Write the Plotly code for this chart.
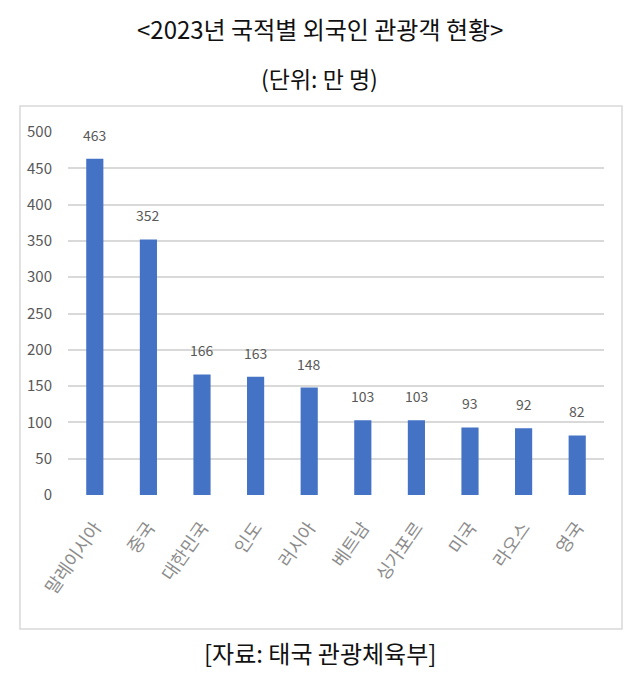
import plotly.graph_objects as go

countries = ["말레이시아", "중국", "대한민국", "인도", "러시아", "베트남", "싱가포르", "미국", "라오스", "영국"]
visitors = [463, 352, 166, 163, 148, 103, 103, 93, 92, 82]
y_ticks = [0, 50, 100, 150, 200, 250, 300, 350, 400, 450, 500]

title_text = "&lt;2023년 국적별 외국인 관광객 현황&gt;"
unit_text = "(단위: 만 명)"
source_text = "[자료: 태국 관광체육부]"

FONT = "Noto Sans CJK KR"
GRAY = "#595959"

fig = go.Figure()
fig.add_trace(go.Bar(
    x=countries, y=visitors,
    marker=dict(color="#4472C4", line=dict(width=0)),
    hoverinfo="x+y",
))

for c, v in zip(countries, visitors):
    fig.add_annotation(x=c, y=v, text=str(v), showarrow=False,
                       yanchor="bottom", yshift=12,
                       font=dict(family=FONT, size=14, color=GRAY))

# chart frame
fig.add_shape(type="rect", xref="paper", yref="paper",
              x0=-0.0896, x1=1.0336, y0=-0.369, y1=1.0716,
              line=dict(color="#d9d9d9", width=1.5), layer="below")

fig.add_annotation(xref="paper", yref="paper", x=0.470, y=1.2865,
                   xanchor="center", yanchor="middle",
                   text=title_text, showarrow=False,
                   font=dict(family=FONT, size=24, color="#111111"))
fig.add_annotation(xref="paper", yref="paper", x=0.470, y=1.1488,
                   xanchor="center", yanchor="middle",
                   text=unit_text, showarrow=False,
                   font=dict(family=FONT, size=23, color="#111111"))
fig.add_annotation(xref="paper", yref="paper", x=0.470, y=-0.435,
                   xanchor="center", yanchor="middle",
                   text=source_text, showarrow=False,
                   font=dict(family=FONT, size=24, color="#111111"))

fig.update_layout(
    width=640, height=685,
    margin=dict(l=68, r=36, t=132, b=190),
    paper_bgcolor="white", plot_bgcolor="white",
    bargap=0.68,
    showlegend=False,
    font=dict(family=FONT, color=GRAY),
    xaxis=dict(
        tickangle=-55,
        tickfont=dict(family=FONT, size=18, color="#8c8c8c"),
        showgrid=False, zeroline=False, showline=False,
        ticks="outside", ticklen=14, tickcolor="rgba(0,0,0,0)",
    ),
    yaxis=dict(
        range=[0, 500],
        tickvals=y_ticks,
        tickfont=dict(family=FONT, size=15, color=GRAY),
        showgrid=True, gridcolor="#d9d9d9", gridwidth=1.5,
        zeroline=False, showline=False,
        ticks="outside", ticklen=12, tickcolor="rgba(0,0,0,0)",
    ),
)

fig.write_html("out.html")
